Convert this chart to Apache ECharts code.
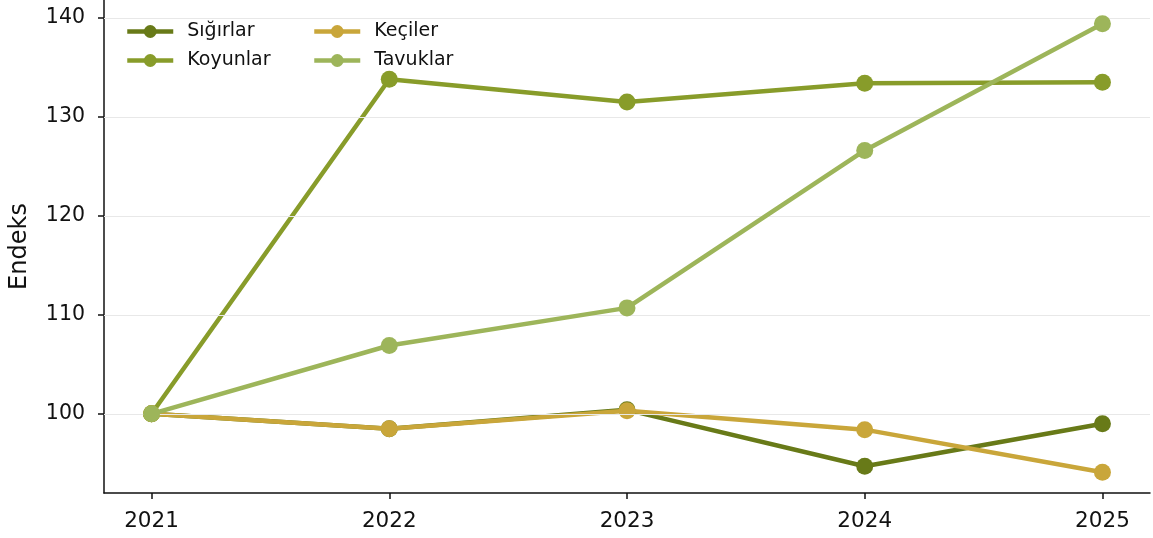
<!DOCTYPE html>
<html><head><meta charset="utf-8">
<script src="https://cdn.jsdelivr.net/npm/echarts@6/dist/echarts.min.js"></script>
<style>html,body{margin:0;padding:0;background:#fff}#c{width:1153px;height:538px}</style>
</head><body><div id="c"></div>
<script>
const years = [2021, 2022, 2023, 2024, 2025];
const yTicks = [100, 110, 120, 130, 140];
const sigirlar = [100, 98.5, 100.4, 94.7, 99.0];
const koyunlar = [100, 133.8, 131.5, 133.4, 133.5];
const keciler = [100, 98.5, 100.3, 98.4, 94.1];
const tavuklar = [100, 106.9, 110.7, 126.6, 139.4];
const names = ['Sığırlar', 'Koyunlar', 'Keçiler', 'Tavuklar'];
const colors = ['#687a18', '#889c2a', '#c9a63a', '#9db55a'];
const values = [sigirlar, koyunlar, keciler, tavuklar];

const font = 'DejaVu Sans';
const chart = echarts.init(document.getElementById('c'), null, {renderer: 'canvas'});
const series = names.map((n, i) => ({
  name: n, type: 'line',
  data: years.map((y, j) => [y, values[i][j]]),
  symbol: 'circle', symbolSize: 17,
  lineStyle: {width: 4.5, color: colors[i]},
  itemStyle: {color: colors[i]},
  z: 2 + i
}));
const legendBase = {
  orient: 'vertical', top: 17, itemGap: 10, itemWidth: 46, itemHeight: 16,
  textStyle: {fontFamily: font, fontSize: 19, color: '#111', padding: [0, 0, 0, 9]},
  lineStyle: {width: 4.5},
  selectedMode: false
};
chart.setOption({
  animation: false,
  grid: {left: 104, right: 3, top: 0, bottom: 45, containLabel: false, outerBoundsMode: 'none'},
  legend: [
    Object.assign({}, legendBase, {left: 120, data: [names[0], names[1]]}),
    Object.assign({}, legendBase, {left: 307, data: [names[2], names[3]]})
  ],
  xAxis: {
    type: 'value', min: 2020.8, max: 2025.2,
    axisLine: {lineStyle: {color: '#111', width: 1.5}},
    axisTick: {show: true, length: 6, lineStyle: {color: '#111', width: 1.5}, customValues: years},
    axisLabel: {customValues: years, formatter: v => String(v), fontFamily: font, fontSize: 21.5, color: '#111', margin: 17},
    splitLine: {show: false}
  },
  yAxis: {
    type: 'value', min: 92, max: 141.8,
    name: 'Endeks', nameLocation: 'middle', nameGap: 72,
    nameTextStyle: {fontFamily: font, fontSize: 24, color: '#111'},
    axisLine: {show: true, lineStyle: {color: '#111', width: 1.5}},
    axisTick: {show: true, length: 6, lineStyle: {color: '#111', width: 1.5}, customValues: yTicks},
    axisLabel: {customValues: yTicks, fontFamily: font, fontSize: 20.5, color: '#111', margin: 19},
    splitLine: {show: false}
  },
  series: series.concat([{
    type: 'line', silent: true, data: [],
    markLine: {
      silent: true, symbol: 'none', label: {show: false},
      lineStyle: {color: '#e8e8e8', width: 1.2, type: 'solid'},
      data: yTicks.map(v => ({yAxis: v}))
    },
    z: 1
  }])
});
</script></body></html>
